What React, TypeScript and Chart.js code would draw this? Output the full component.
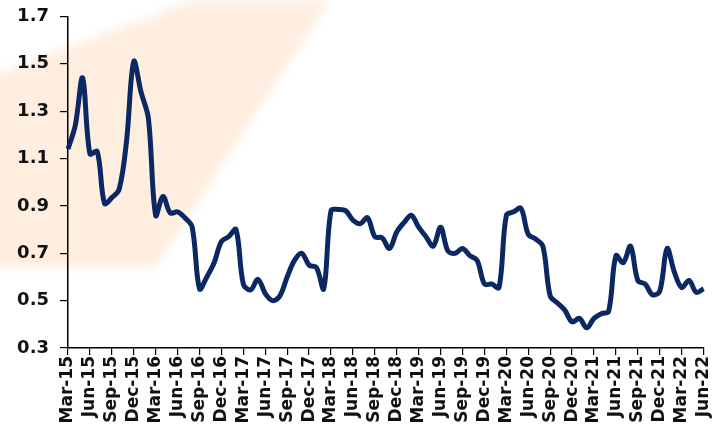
import React, { useEffect, useRef } from "react";
import { Chart, registerables } from "chart.js";

Chart.register(...registerables);

const months: string[] = [
  "Mar-15","Apr-15","May-15","Jun-15","Jul-15","Aug-15","Sep-15","Oct-15","Nov-15","Dec-15",
  "Jan-16","Feb-16","Mar-16","Apr-16","May-16","Jun-16","Jul-16","Aug-16","Sep-16","Oct-16","Nov-16","Dec-16",
  "Jan-17","Feb-17","Mar-17","Apr-17","May-17","Jun-17","Jul-17","Aug-17","Sep-17","Oct-17","Nov-17","Dec-17",
  "Jan-18","Feb-18","Mar-18","Apr-18","May-18","Jun-18","Jul-18","Aug-18","Sep-18","Oct-18","Nov-18","Dec-18",
  "Jan-19","Feb-19","Mar-19","Apr-19","May-19","Jun-19","Jul-19","Aug-19","Sep-19","Oct-19","Nov-19","Dec-19",
  "Jan-20","Feb-20","Mar-20","Apr-20","May-20","Jun-20","Jul-20","Aug-20","Sep-20","Oct-20","Nov-20","Dec-20",
  "Jan-21","Feb-21","Mar-21","Apr-21","May-21","Jun-21","Jul-21","Aug-21","Sep-21","Oct-21","Nov-21","Dec-21",
  "Jan-22","Feb-22","Mar-22","Apr-22","May-22","Jun-22",
];

const values: number[] = [
  1.14, 1.24, 1.44, 1.12, 1.13, 0.91, 0.935, 0.97, 1.17, 1.51,
  1.38, 1.27, 0.86, 0.94, 0.87, 0.875, 0.85, 0.81, 0.55, 0.6, 0.66, 0.75,
  0.77, 0.8, 0.57, 0.545, 0.59, 0.53, 0.5, 0.52, 0.6, 0.67, 0.7, 0.65,
  0.64, 0.55, 0.88, 0.885, 0.88, 0.84, 0.825, 0.85, 0.77, 0.765, 0.72, 0.79,
  0.83, 0.86, 0.81, 0.77, 0.73, 0.81, 0.71, 0.7, 0.72, 0.69, 0.67, 0.57,
  0.57, 0.555, 0.86, 0.875, 0.89, 0.78, 0.76, 0.73, 0.52, 0.49, 0.46, 0.41,
  0.425, 0.385, 0.425, 0.445, 0.455, 0.69, 0.66, 0.73, 0.585, 0.57, 0.525, 0.54,
  0.72, 0.62, 0.555, 0.585, 0.535, 0.55,
];

const yMin = 0.3;
const yMax = 1.7;
const yStep = 0.2;
const labelEvery = 3;

const watermark = {
  id: "watermark",
  beforeDraw(chart: any) {
    const ctx = chart.ctx;
    ctx.save();
    ctx.filter = "blur(5px)";
    ctx.fillStyle = "rgba(253,226,204,0.6)";
    ctx.beginPath();
    ctx.moveTo(-20, 80);
    ctx.lineTo(195, 0);
    ctx.lineTo(330, 0);
    ctx.lineTo(155, 268);
    ctx.lineTo(-20, 268);
    ctx.closePath();
    ctx.fill();
    ctx.restore();
  },
};

export default function App() {
  const ref = useRef<HTMLCanvasElement | null>(null);
  useEffect(() => {
    if (!ref.current) return;
    const font = "'DejaVu Sans', sans-serif";
    const chart = new Chart(ref.current, {
      type: "line",
      data: {
        labels: months,
        datasets: [
          {
            data: values,
            borderColor: "#0b2862",
            borderWidth: 5,
            pointRadius: 0,
            tension: 0.35,
            fill: false,
          },
        ],
      },
      options: {
        responsive: false,
        animation: false,
        events: [],
        layout: { padding: { top: 0, right: 18, left: 0, bottom: 0 } },
        plugins: { legend: { display: false }, tooltip: { enabled: false } },
        scales: {
          x: {
            type: "category",
            offset: false,
            afterFit: (s: any) => {
              s.height = 83;
            },
            border: { display: true, color: "#000", width: 1.5 },
            grid: {
              drawOnChartArea: false,
              drawTicks: true,
              tickLength: 7,
              color: (c: any) => (c.index % labelEvery === 0 ? "#000" : "rgba(0,0,0,0)"),
              lineWidth: 1.2,
            },
            ticks: {
              autoSkip: false,
              maxRotation: 90,
              minRotation: 90,
              padding: 1,
              color: "#111",
              font: { family: font, weight: "bold", size: 17 },
              callback: (_v: any, i: number) => (i % labelEvery === 0 ? months[i] : ""),
            },
          },
          y: {
            min: yMin,
            max: yMax,
            afterFit: (s: any) => {
              s.width = 68;
            },
            border: { display: true, color: "#000", width: 1.5 },
            grid: {
              drawOnChartArea: false,
              drawTicks: true,
              tickLength: 8,
              color: "#000",
              lineWidth: 1.2,
            },
            ticks: {
              stepSize: yStep,
              padding: 11,
              color: "#111",
              font: { family: font, weight: "bold", size: 18, lineHeight: 0.6 },
              callback: (v: any) => Number(v).toFixed(1),
            },
          },
        },
      },
      plugins: [watermark],
    });
    return () => chart.destroy();
  }, []);
  return (
    <div style={{ position: "absolute", left: 0, top: 0, width: 725, height: 431, background: "#fff" }}>
      <canvas ref={ref} width={725} height={431} />
    </div>
  );
}
